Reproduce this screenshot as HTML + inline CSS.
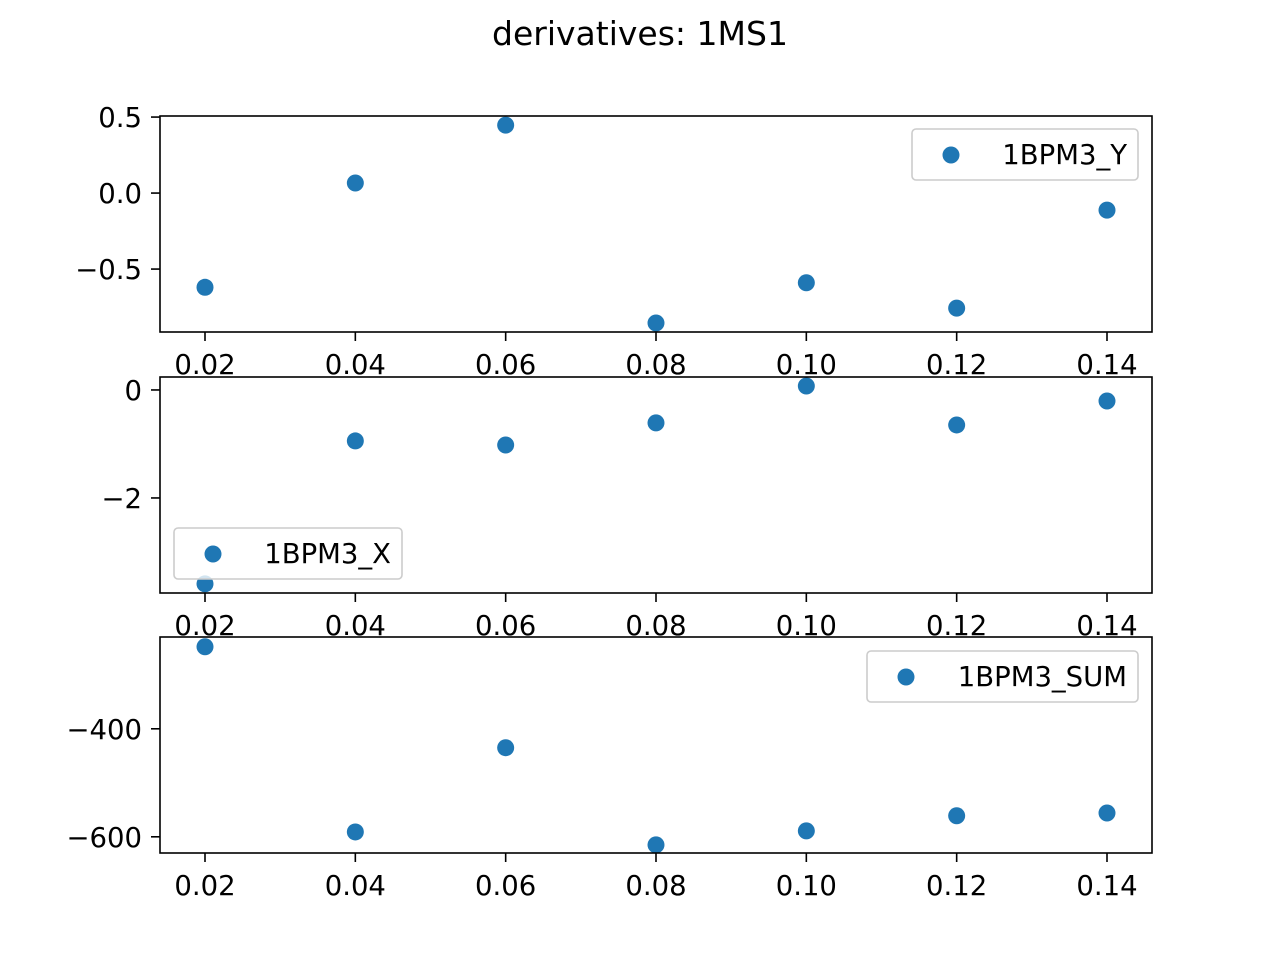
<!DOCTYPE html>
<html><head><meta charset="utf-8"><style>
html,body{margin:0;padding:0;background:#fff;}
svg{display:block;font-family:"DejaVu Sans","Liberation Sans",sans-serif;}
</style></head><body>
<svg id="chart" width="1280" height="960">
<text x="640" y="45" text-anchor="middle" font-size="33">derivatives: 1MS1</text>
</svg>
<script>
const xValues = [0.02,0.04,0.06,0.08,0.10,0.12,0.14];
const xTicks = [0.02,0.04,0.06,0.08,0.10,0.12,0.14];
const seriesY = [-0.62,0.066,0.447,-0.855,-0.59,-0.757,-0.112];
const seriesX = [-3.59,-0.944,-1.02,-0.61,0.074,-0.648,-0.204];
const seriesSum = [-248,-591,-435,-615,-589,-561,-556];
const ticksY = [0.5,0.0,-0.5];
const ticksX = [0,-2];
const ticksSum = [-400,-600];
const labelsY = ["0.5","0.0","\u22120.5"];
const labelsX = ["0","\u22122"];
const labelsSum = ["\u2212400","\u2212600"];

const NS="http://www.w3.org/2000/svg";
const svg=document.getElementById('chart');
function mk(tag,attrs,parent){const e=document.createElementNS(NS,tag);for(const k in attrs)e.setAttribute(k,attrs[k]);(parent||svg).appendChild(e);return e;}
const L=160,R=1152;
const FS=27.5;
const xScale=v=>205+(v-0.02)/0.12*902;
const panels=[
 {name:'1BPM3_Y',top:116,bot:332,ymax:0.507,ymin:-0.914,vals:seriesY,ticks:ticksY,labels:labelsY,leg:[912,129,226]},
 {name:'1BPM3_X',top:377,bot:593,ymax:0.24,ymin:-3.76,vals:seriesX,ticks:ticksX,labels:labelsX,leg:[174,528,228]},
 {name:'1BPM3_SUM',top:637,bot:853,ymax:-230,ymin:-630,vals:seriesSum,ticks:ticksSum,labels:labelsSum,leg:[867,651,271]}
];
panels.forEach((p,i)=>{
 const g=mk('g',{});
 
 
 const ys=v=>p.top+(p.ymax-v)/(p.ymax-p.ymin)*(p.bot-p.top);
 xTicks.forEach(t=>{
  const x=xScale(t);
  const tk=mk('line',{x1:x,x2:x,y1:p.bot,y2:p.bot+9,stroke:'#000','stroke-width':1.6},g);
  
  
  const tx=mk('text',{x:x,y:p.bot+42,'text-anchor':'middle','font-size':FS},g);
  tx.textContent=t.toFixed(2);
  
  
 });
 p.ticks.forEach((t,j)=>{
  const y=ys(t);
  const tk=mk('line',{x1:L-9,x2:L,y1:y,y2:y,stroke:'#000','stroke-width':1.6},g);
  
  
  const tx=mk('text',{x:L-18,y:y+10,'text-anchor':'end','font-size':FS},g);
  tx.textContent=p.labels[j];
  
  
 });
 p.vals.forEach((v,j)=>{
  const c=mk('circle',{cx:xScale(xValues[j]),cy:ys(v),r:8.5,fill:'#1f77b4'},g);
  
  
 });
 const fr=mk('rect',{x:L,y:p.top,width:R-L,height:p.bot-p.top,fill:'none',stroke:'#000','stroke-width':1.6},g);
 
 
 const [lx,ly,lw]=p.leg;
 const lg=mk('g',{},g);
 
 
 mk('rect',{x:lx,y:ly,width:lw,height:51,rx:4,fill:'#fff','fill-opacity':0.8,stroke:'#ccc','stroke-width':1.6},lg);
 mk('circle',{cx:lx+39,cy:ly+26,r:8.5,fill:'#1f77b4'},lg);
 const lt=mk('text',{x:lx+lw-11,y:ly+35,'text-anchor':'end','font-size':FS},lg);
 lt.textContent=p.name;
});
</script>
</body></html>
